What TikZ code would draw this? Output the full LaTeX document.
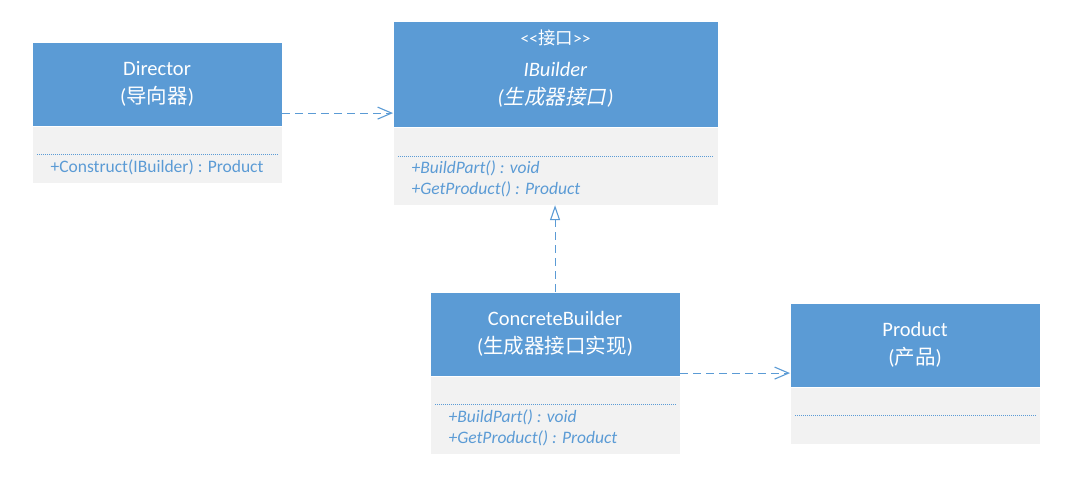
\documentclass[tikz,border=0pt]{standalone}
\usepackage{fontspec}
\setmainfont{Carlito}
\newfontfamily\cjk{Noto Sans CJK SC}
\newfontfamily\cjkit{Noto Sans CJK SC}[FakeSlant=0.2]
\usetikzlibrary{arrows.meta, positioning}
\definecolor{umlblue}{HTML}{5B9BD5}
\definecolor{umlgray}{HTML}{F2F2F2}

\begin{document}
\begin{tikzpicture}[
            x = 1pt, y = 1pt, % one unit is one pixel
            line width = 1.1pt,
            dep/.style = {umlblue, dash pattern = on 8pt off 5pt,
                -{Straight Barb[length=14pt, width=12pt]}}, % dependency
            real/.style = {umlblue, dash pattern = on 8pt off 5pt,
                -{Triangle[open, length=15pt, width=10pt]}} % realization
        ]

        \tikzstyle{classhead}=[
            fill = umlblue,
            text = white,
            anchor = north west,
            align = center,
            inner sep = 0pt,
            font = \fontsize{20.5}{28}\selectfont
        ]
        \tikzstyle{classbody}=[
            fill = umlgray,
            inner sep = 0pt
        ]
        \tikzstyle{sep}=[
            umlblue,
            line width = 0.6pt,
            dash pattern = on 1pt off 1pt
        ]
        \tikzstyle{methods}=[
            text = umlblue,
            inner sep = 0pt,
            align = left,
            font = \fontsize{17.5}{21}\selectfont
        ]

        \useasboundingbox (0,0) rectangle (1076,479);

        % Director
        \node[classhead, minimum width=249pt, minimum height=83pt] (dir) at (32,437) {Director\\({\cjk 导向器})};
        \node[classbody, minimum width=249pt, minimum height=56pt] (dirbody) [below right=0pt and 0pt of dir.south west] {};
        \draw[sep] ([shift={(5,-28)}]dirbody.north west) -- ([shift={(-5,-28)}]dirbody.north east);
        \node[methods, anchor=base] (dirops) at ([yshift=-46]dirbody.north) {+Construct(IBuilder) : Product};

        % IBuilder
        \node[classhead, minimum width=324pt, minimum height=105pt] (ib) at (393,458) {};
        \node[classhead, anchor=center] (ibname) at ([yshift=5]ib.center) {{\fontsize{17.5}{21}\selectfont <\kern0pt<{\cjk 接口}>\kern0pt>}\\[4pt]\textit{IBuilder}\\\textit{({\cjkit 生成器接口}\kern1pt)}};
        \node[classbody, minimum width=324pt, minimum height=77pt] (ibbody) [below right=0pt and 0pt of ib.south west] {};
        \draw[sep] ([shift={(5,-29)}]ibbody.north west) -- ([shift={(-5,-29)}]ibbody.north east);
        \node[methods, anchor=base west, font=\fontsize{17.5}{21}\selectfont\itshape] (ibops) at ([shift={(18,-67)}]ibbody.north west) {+BuildPart() : void\\+GetProduct() : Product};

        % ConcreteBuilder
        \node[classhead, minimum width=249pt, minimum height=83pt] (cb) at (430,187) {ConcreteBuilder\\({\cjk 生成器接口实现})};
        \node[classbody, minimum width=249pt, minimum height=77pt] (cbbody) [below right=0pt and 0pt of cb.south west] {};
        \draw[sep] ([shift={(5,-28)}]cbbody.north west) -- ([shift={(-5,-28)}]cbbody.north east);
        \node[methods, anchor=base west, font=\fontsize{17.5}{21}\selectfont\itshape] (cbops) at ([shift={(18,-67)}]cbbody.north west) {+BuildPart() : void\\+GetProduct() : Product};

        % Product
        \node[classhead, minimum width=249pt, minimum height=83pt] (prod) at (790,176) {Product\\({\cjk 产品})};
        \node[classbody, minimum width=249pt, minimum height=56pt] (prodbody) [below right=0pt and 0pt of prod.south west] {};
        \draw[sep] ([shift={(5,-28)}]prodbody.north west) -- ([shift={(-5,-28)}]prodbody.north east);

        % connectors
        \draw[dep] ([yshift=13]dir.south east) -- ([yshift=14]ib.south west);
        \draw[real] (cb.north) -- (cb.north |- ibbody.south);
        \draw[dep] ([yshift=3]cb.south east) -- ([yshift=14]prod.south west);

    \end{tikzpicture}
\end{document}
